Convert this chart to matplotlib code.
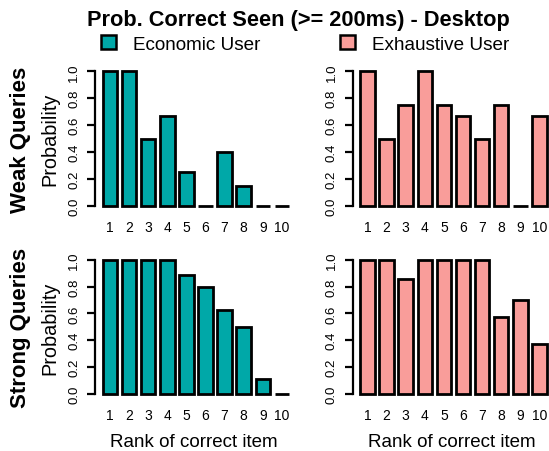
import matplotlib
matplotlib.use("Agg")
import matplotlib.pyplot as plt
from matplotlib.patches import Patch

plt.rcParams['font.family'] = ['Liberation Sans', 'DejaVu Sans']

ranks = [1, 2, 3, 4, 5, 6, 7, 8, 9, 10]
rank_labels = ['1', '2', '3', '4', '5', '6', '7', '8', '9', '10']
weak_economic = [1.0, 1.0, 0.5, 0.667, 0.25, 0.0, 0.4, 0.143, 0.0, 0.0]
weak_exhaustive = [1.0, 0.5, 0.75, 1.0, 0.75, 0.667, 0.5, 0.75, 0.0, 0.667]
strong_economic = [1.0, 1.0, 1.0, 1.0, 0.889, 0.8, 0.625, 0.5, 0.111, 0.0]
strong_exhaustive = [1.0, 1.0, 0.857, 1.0, 1.0, 1.0, 1.0, 0.571, 0.7, 0.375]
yticks = [0.0, 0.2, 0.4, 0.6, 0.8, 1.0]
ytick_labels = ['0.0', '0.2', '0.4', '0.6', '0.8', '1.0']

teal = '#00A8A8'
pink = '#F99D9A'

W, H = 549, 452
fig = plt.figure(figsize=(W / 100, H / 100), dpi=100)

unit = 19.1
xl, xr = 0.215, 10.6
axw = (xr - xl) * unit

def make_ax(left_px, top_px, bottom_px):
    return fig.add_axes([left_px / W, 1 - bottom_px / H, axw / W, (bottom_px - top_px) / H])

panels = [
    (95, 72.3, 206.7, weak_economic, teal),
    (352.5, 72.3, 206.7, weak_exhaustive, pink),
    (95, 260.7, 395, strong_economic, teal),
    (352.5, 260.7, 395, strong_exhaustive, pink),
]

for i, (lx, ty, by, vals, col) in enumerate(panels):
    ax = make_ax(lx, ty, by)
    ax.bar(ranks, vals, width=0.76, color=col, edgecolor='black', linewidth=2.0, clip_on=False)
    ax.set_xlim(xl, xr)
    ax.set_ylim(0, 1)
    for s in ['top', 'right', 'bottom']:
        ax.spines[s].set_visible(False)
    ax.spines['left'].set_bounds(0, 1)
    ax.spines['left'].set_linewidth(1.6)
    ax.set_yticks(yticks)
    ax.set_yticklabels(ytick_labels, rotation=90, va='center', fontsize=9.5)
    ax.tick_params(axis='y', length=5.5, width=1.6, pad=5)
    ax.set_xticks(ranks)
    ax.set_xticklabels(rank_labels, fontsize=10)
    ax.tick_params(axis='x', length=0, pad=10)
    ax.patch.set_visible(False)
    if i >= 2:
        ax.set_xlabel('Rank of correct item', fontsize=13.5, labelpad=8)

fig.text(298.5 / W, 1 - 26 / H, 'Prob. Correct Seen (>= 200ms) - Desktop',
         fontsize=15.7, fontweight='bold', ha='center', va='baseline')

handles = [Patch(facecolor=teal, edgecolor='black', linewidth=1.8),
           Patch(facecolor=pink, edgecolor='black', linewidth=1.8)]
fig.legend(handles, ['Economic User', 'Exhaustive User'], ncol=2, frameon=False,
           loc='upper left', bbox_to_anchor=(101 / W, 1 - 36 / H), fontsize=13.6,
           handlelength=0.8, handleheight=0.8, handletextpad=0.9, columnspacing=4.2,
           borderpad=0, borderaxespad=0)

for cy, lab in [(139.5, 'Weak Queries'), (328, 'Strong Queries')]:
    fig.text(21 / W, 1 - cy / H, lab, rotation=90, fontsize=16, fontweight='bold',
             ha='center', va='center')
    fig.text(50 / W, 1 - cy / H, 'Probability', rotation=90, fontsize=14.3,
             ha='center', va='center')

fig.savefig('out.png', dpi=100)
